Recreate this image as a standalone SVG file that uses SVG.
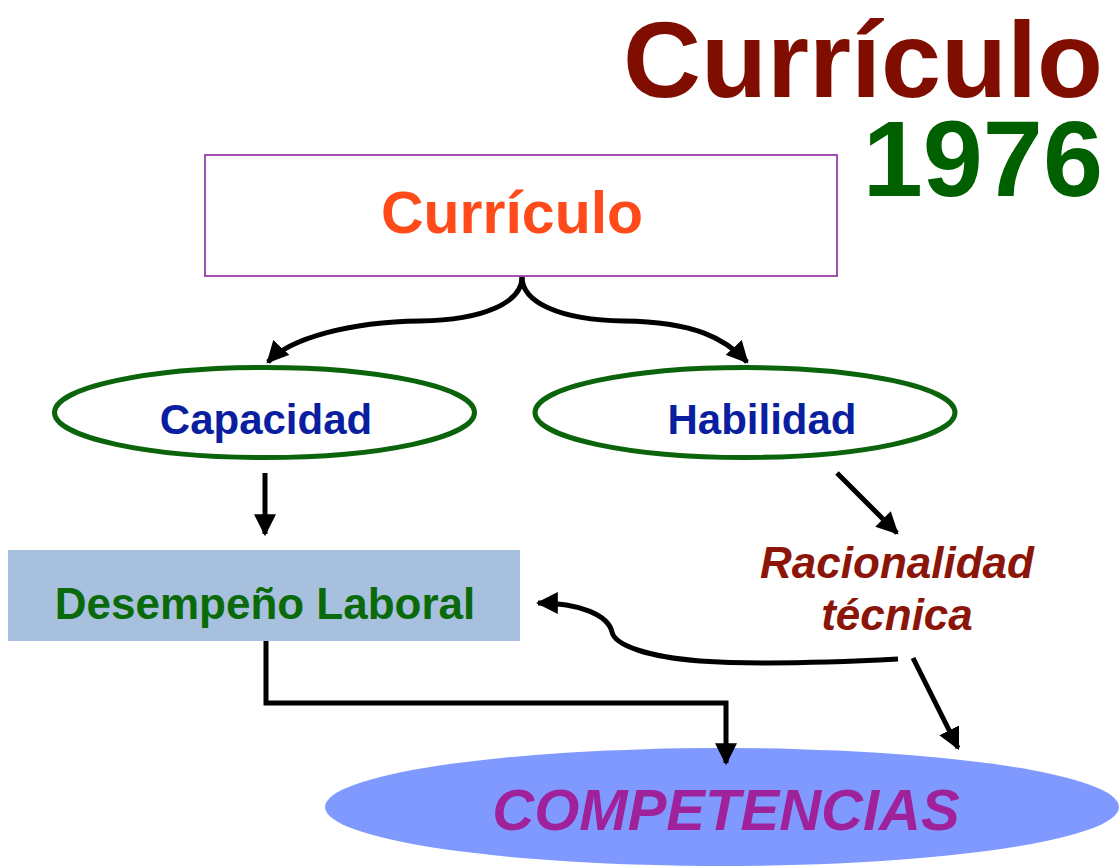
<svg xmlns="http://www.w3.org/2000/svg" width="1119" height="867" viewBox="0 0 1119 867">
<defs>
<style>
text{font-family:"Liberation Sans",Arial,sans-serif;font-weight:bold}
.c{stroke:#000;stroke-width:5;fill:none}
.oval{fill:#fff;stroke:#0b640b;stroke-width:5}
</style>
<marker id="ah" viewBox="0 0 10 10" refX="9" refY="5" markerWidth="4.4" markerHeight="4.4" markerUnits="strokeWidth" orient="auto">
<path d="M0,0 L10,5 L0,10 z" fill="#000"/>
</marker>
</defs>
<rect width="1119" height="867" fill="#fff"/>
<g id="title">
<text x="1103" y="97" font-size="108" text-anchor="end" fill="#800e00">Currículo</text>
<text x="1103" y="196" font-size="108" text-anchor="end" fill="#006000">1976</text>
</g>
<g id="curriculo">
<rect x="205" y="155" width="632" height="121" fill="#fff" stroke="#a050b0" stroke-width="2"/>
<text x="512" y="233" font-size="59" text-anchor="middle" fill="#ff4a1a">Currículo</text>
</g>
<g id="competencias">
<ellipse cx="722" cy="807" rx="397" ry="59" fill="#8099ff"/>
<text x="726" y="830" font-size="58" font-style="italic" text-anchor="middle" fill="#a0229a">COMPETENCIAS</text>
</g>
<g id="connectors">
<path class="c" d="M522,277 C522,302 485,320 420,321 C350,322 290,338 268,362" marker-end="url(#ah)"/>
<path class="c" d="M522,277 C522,302 559,320 624,321 C694,322 725,338 747,362" marker-end="url(#ah)"/>
<path class="c" d="M265,473 L265,534" marker-end="url(#ah)"/>
<path class="c" d="M837,473 L897,533" marker-end="url(#ah)"/>
<path class="c" d="M898,659 C840,662 760,665 700,661 C650,657 615,646 612,632 C608,615 580,603 538,603" marker-end="url(#ah)"/>
<path class="c" d="M913,658 L958,748" marker-end="url(#ah)"/>
<path class="c" d="M266,641 L266,703 L726,703 L726,763" marker-end="url(#ah)"/>
</g>
<g id="capacidad">
<ellipse class="oval" cx="264.5" cy="412.5" rx="210" ry="45"/>
<text x="266" y="434" font-size="42" text-anchor="middle" fill="#0a1fa0">Capacidad</text>
</g>
<g id="habilidad">
<ellipse class="oval" cx="745" cy="412.5" rx="210" ry="45"/>
<text x="762" y="434" font-size="42" text-anchor="middle" fill="#0a1fa0">Habilidad</text>
</g>
<g id="desempeno">
<rect x="8" y="550" width="512" height="91" fill="#a7c0de"/>
<text x="265" y="619" font-size="44" text-anchor="middle" fill="#0a6a0a">Desempeño Laboral</text>
</g>
<g id="racionalidad">
<text x="897" y="578" font-size="44" font-style="italic" text-anchor="middle" fill="#8b1508">Racionalidad</text>
<text x="897" y="630" font-size="44" font-style="italic" text-anchor="middle" fill="#8b1508">técnica</text>
</g>
</svg>
